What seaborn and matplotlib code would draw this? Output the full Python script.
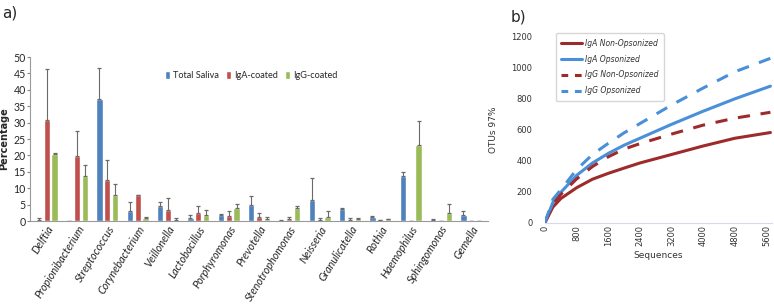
import numpy as np
import pandas as pd
import seaborn as sns
import matplotlib.pyplot as plt
from matplotlib.lines import Line2D
from matplotlib.patches import Patch

# ---- panel a data: mean percentage and upper error per group ----
genera = ["Delftia", "Propionibacterium", "Streptococcus", "Corynebacterium", "Veillonella",
          "Lactobacillus", "Porphyromonas", "Prevotella", "Stenotrophomonas", "Neisseria",
          "Granulicatella", "Rothia", "Haemophilus", "Sphingomonas", "Gemella"]
groups = ["Total Saliva", "IgA-coated", "IgG-coated"]

total_saliva = [0.4, 0.0, 37.1, 3.1, 4.5, 0.9, 1.9, 5.0, 0.1, 6.5, 3.7, 1.3, 13.6, 0.4, 1.9]
iga_coated = [30.7, 19.7, 12.5, 7.8, 3.4, 2.3, 1.5, 1.1, 0.7, 0.3, 0.3, 0.2, 0.0, 0.0, 0.1]
igg_coated = [20.3, 13.7, 7.9, 1.0, 0.4, 1.8, 3.9, 0.6, 4.0, 1.3, 0.6, 0.5, 23.3, 2.5, 0.0]

total_err = [0.4, 0.0, 9.5, 2.6, 1.4, 0.8, 0.1, 2.7, 0.1, 6.5, 0.4, 0.2, 1.4, 0.2, 1.0]
iga_err = [15.6, 7.8, 6.2, 0.1, 3.7, 2.4, 1.4, 1.2, 0.6, 0.5, 0.5, 0.1, 0.0, 0.0, 0.0]
igg_err = [0.4, 3.5, 3.3, 0.1, 0.6, 1.7, 1.2, 0.5, 0.5, 1.6, 0.4, 0.2, 7.3, 2.7, 0.0]

bar_colors = ["#4F81BD", "#C0504D", "#9BBB59"]

# ---- panel b data: rarefaction curves ----
sequences = [0, 200, 400, 800, 1200, 1600, 2000, 2400, 3200, 4000, 4800, 5700]
iga_non_ops = [0, 100, 155, 225, 280, 318, 352, 385, 440, 495, 545, 582]
iga_ops = [0, 130, 195, 305, 385, 447, 500, 545, 635, 720, 800, 882]
igg_non_ops = [0, 120, 182, 282, 362, 425, 475, 510, 572, 630, 675, 713]
igg_ops = [0, 150, 212, 342, 440, 512, 580, 640, 760, 870, 975, 1062]

curve_names = ["IgA Non-Opsonized", "IgA Opsonized", "IgG Non-Opsonized", "IgG Opsonized"]
curve_colors = ["#9E2B2B", "#4A90D9", "#9E2B2B", "#4A90D9"]
curve_dashed = [False, False, True, True]

sns.set_style("white")
plt.rcParams["font.family"] = ["Lato", "DejaVu Sans"]

fig = plt.figure(figsize=(7.74, 3.05), dpi=100)

# ---------------- panel a ----------------
ax1 = fig.add_axes([30 / 774, 84 / 305, 458 / 774, 164 / 305])
df = pd.DataFrame({
    "genus": genera * 3,
    "group": [g for g in groups for _ in genera],
    "value": total_saliva + iga_coated + igg_coated,
})
sns.barplot(data=df, x="genus", y="value", hue="group", order=genera, hue_order=groups,
            palette=bar_colors, errorbar=None, width=0.78, gap=0.22, ax=ax1,
            saturation=1, legend=False)

for cont, vals, errs in zip(ax1.containers, [total_saliva, iga_coated, igg_coated],
                            [total_err, iga_err, igg_err]):
    for patch, v, e in zip(cont.patches, vals, errs):
        cx = patch.get_x() + patch.get_width() / 2
        ax1.errorbar(cx, v, yerr=[[0], [e]], fmt="none", ecolor="#6a6a6a",
                     elinewidth=0.8, capsize=1.6, capthick=0.9)

ax1.set_ylim(0, 50)
ax1.set_xlim(-0.55, len(genera) - 0.45)
ax1.set_yticks(range(0, 51, 5))
ax1.tick_params(axis="y", labelsize=7.6, length=2, pad=1, color="#868686", left=True)
ax1.tick_params(axis="x", length=0, pad=2)
ax1.set_xticks(range(len(genera)))
ax1.set_xticklabels(genera, rotation=58, ha="right", rotation_mode="anchor",
                    fontsize=7.8, style="italic")
ax1.set_xlabel("")
ax1.set_ylabel("Percentage", fontsize=7, fontweight="bold", family="DejaVu Sans", labelpad=3)
for side in ["top", "right"]:
    ax1.spines[side].set_visible(False)
for side in ["left", "bottom"]:
    ax1.spines[side].set_color("#9a9a9a")
    ax1.spines[side].set_linewidth(0.8)

handles = [Patch(facecolor=c, label=g) for c, g in zip(bar_colors, groups)]
ax1.legend(handles=handles, loc="upper left", bbox_to_anchor=(0.287, 0.935), ncol=3,
           frameon=False, fontsize=6.6, handlelength=0.5, handleheight=0.9,
           handletextpad=0.35, columnspacing=0.8, borderaxespad=0)

fig.text(2 / 774, 1 - 18 / 305, "a)", fontsize=11, family="DejaVu Sans")
fig.text(511 / 774, 1 - 22 / 305, "b)", fontsize=11, family="DejaVu Sans")

# ---------------- panel b ----------------
ax2 = fig.add_axes([545 / 774, 82.5 / 305, 227 / 774, 185.5 / 305])
curves = pd.DataFrame({
    "Sequences": sequences * 4,
    "OTUs": iga_non_ops + iga_ops + igg_non_ops + igg_ops,
    "series": [n for n in curve_names for _ in sequences],
})
for name, col, dashed in zip(curve_names, curve_colors, curve_dashed):
    sub = curves[curves["series"] == name]
    sns.lineplot(data=sub, x="Sequences", y="OTUs", color=col, lw=2.2, ax=ax2,
                 linestyle=(0, (4, 3.5)) if dashed else "-")

ax2.set_xlim(0, 5740)
ax2.set_ylim(0, 1200)
ax2.set_xticks(range(0, 5601, 800))
ax2.set_yticks(range(0, 1201, 200))
ax2.tick_params(axis="x", labelsize=6, rotation=90, length=0, pad=2, labelcolor="#333333")
ax2.tick_params(axis="y", labelsize=6, length=0, pad=9, labelcolor="#333333")
for lab in ax2.get_xticklabels() + ax2.get_yticklabels():
    lab.set_family("DejaVu Sans")
ax2.set_xlabel("Sequences", fontsize=6.5, family="DejaVu Sans", color="#333333", labelpad=3)
ax2.set_ylabel("OTUs 97%", fontsize=6.5, family="DejaVu Sans", color="#333333", labelpad=10)
for side in ["top", "right", "left"]:
    ax2.spines[side].set_visible(False)
ax2.spines["bottom"].set_color("#d8d8ee")
ax2.spines["bottom"].set_linewidth(0.8)

leg_handles = [Line2D([0], [0], color=c, lw=2.2, linestyle=(0, (2.2, 2.2)) if d else "-")
               for c, d in zip(curve_colors, curve_dashed)]
leg = ax2.legend(leg_handles, curve_names, loc="upper left", bbox_to_anchor=(0.03, 1.04),
                 frameon=True, fancybox=True, fontsize=5.5, handlelength=2.8,
                 labelspacing=0.9, borderpad=0.7, handletextpad=0.3)
leg.get_frame().set_edgecolor("#cccccc")
leg.get_frame().set_linewidth(1.0)
for t in leg.get_texts():
    t.set_style("italic")
    t.set_family("DejaVu Sans")
    t.set_color("#333333")

fig.savefig("out.png", dpi=100)
